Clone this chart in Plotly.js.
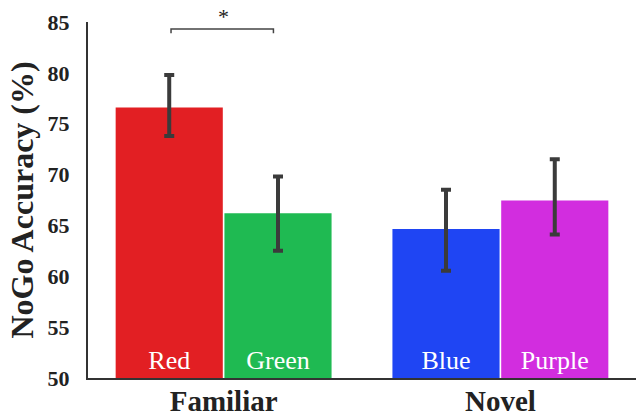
<!DOCTYPE html>
<html><head><meta charset="utf-8">
<script src="https://cdn.plot.ly/plotly-3.0.1.min.js"></script>
<style>html,body{margin:0;padding:0;background:#fff}#c{width:638px;height:418px}</style>
</head><body><div id="c"></div>
<script>
const groups = ['Familiar', 'Novel'];
const firstNames = ['Red', 'Blue'];
const firstValues = [76.6, 64.65];
const firstErrPlus = [3.2, 3.85];
const firstErrMinus = [2.8, 4.1];
const firstColors = ['#e21f23', '#1f45f3'];
const secondNames = ['Green', 'Purple'];
const secondValues = [66.2, 67.45];
const secondErrPlus = [3.6, 4.05];
const secondErrMinus = [3.7, 3.35];
const secondColors = ['#1fba52', '#d22ddf'];
const yTicks = [50, 55, 60, 65, 70, 75, 80, 85];
const baseline = 50;

const serif = 'Liberation Serif';
function trace(vals, plus, minus, colors, names) {
  return {
    type: 'bar', x: groups, base: baseline, y: vals.map(v => v - baseline), text: names,
    textposition: 'inside', insidetextanchor: 'start', constraintext: 'none',
    textfont: {family: serif, size: 26, color: '#ffffff'},
    marker: {color: colors, line: {color: '#ffffff', width: 0}},
    error_y: {type: 'data', symmetric: false, array: plus, arrayminus: minus,
      color: '#3b3b3b', thickness: 4, width: 5},
    hoverinfo: 'none', showlegend: false
  };
}
const data = [
  trace(firstValues, firstErrPlus, firstErrMinus, firstColors, firstNames),
  trace(secondValues, secondErrPlus, secondErrMinus, secondColors, secondNames)
];
const layout = {
  width: 638, height: 418,
  margin: {l: 88, r: 2, t: 22, b: 40},
  paper_bgcolor: '#fff', plot_bgcolor: '#fff',
  barmode: 'group', bargap: 0.214, bargroupgap: 0.015,
  xaxis: {range: [-0.49, 1.49], showline: true, linecolor: '#333', linewidth: 2,
    ticks: '', showgrid: false, zeroline: false, ticklabelstandoff: -4,
    tickfont: {family: serif, size: 29, color: '#222', weight: 'bold'}},
  yaxis: {range: [50, 85], tickvals: yTicks, showline: true, linecolor: '#333', linewidth: 2,
    ticks: '', showgrid: false, zeroline: false, ticklabelstandoff: 12,
    tickfont: {family: serif, size: 22, color: '#222', weight: 'bold'},
    title: {text: 'NoGo Accuracy (%)', font: {family: serif, size: 32, color: '#222', weight: 'bold'}, standoff: 4}},
  shapes: [{type: 'path', xref: 'x', yref: 'y',
    path: 'M -0.19 83.9 L -0.19 84.3 L 0.18 84.3 L 0.18 83.9',
    line: {color: '#444', width: 1.5}}],
  annotations: [{x: 0, y: 1.055, xref: 'x', yref: 'paper', text: '*', showarrow: false,
    font: {family: serif, size: 22, color: '#222'}}]
};
Plotly.newPlot('c', data, layout, {displayModeBar: false, staticPlot: true});
</script></body></html>
